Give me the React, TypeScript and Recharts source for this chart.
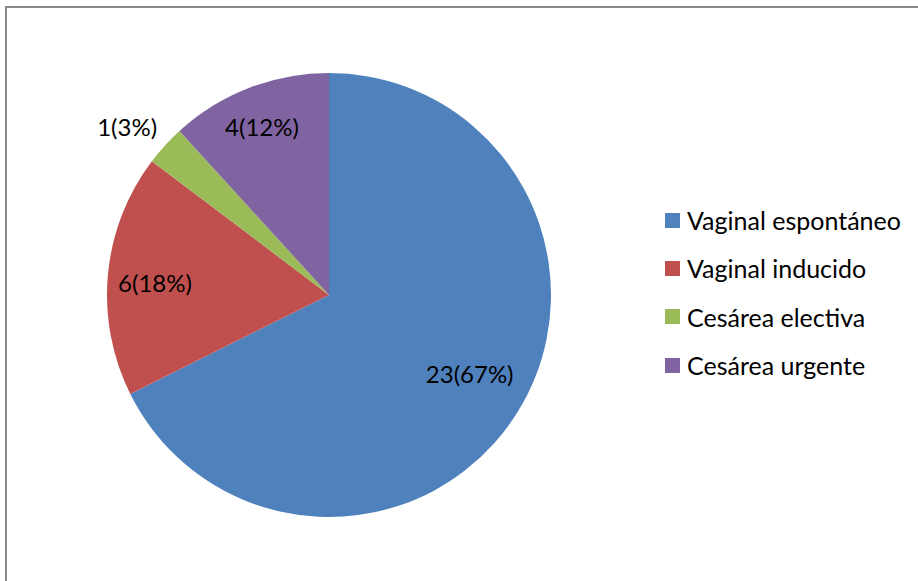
import { PieChart, Pie, Cell, Legend } from "recharts";

const categories = ["Vaginal espontáneo", "Vaginal inducido", "Cesárea electiva", "Cesárea urgente"];
const counts = [23, 6, 1, 4];
const percents = [67, 18, 3, 12];

const colors = ["#4F81BD", "#C0504D", "#9BBB59", "#8064A2"];
// label placement: fraction of radius and angle nudge (deg) from the slice middle
const labelRadius = [0.73, 0.785, 1.18, 0.81];
const labelTurn = [2, 2, 2.75, 0.7];

const FONT = "Lato, 'Open Sans', sans-serif";
const RADIAN = Math.PI / 180;

const data = categories.map((name, i) => ({ name, value: counts[i], pct: percents[i] }));

function renderLabel(props: any) {
  const { cx, cy, midAngle, outerRadius, index } = props;
  const r = outerRadius * labelRadius[index];
  const a = (midAngle + labelTurn[index]) * RADIAN;
  const x = cx + r * Math.cos(-a);
  const y = cy + r * Math.sin(-a) - 2;
  return (
    <text
      x={x}
      y={y}
      textAnchor="middle"
      dominantBaseline="central"
      fill="#000"
      fontSize={24}
      fontFamily={FONT}
    >
      {`${counts[index]}(${percents[index]}%)`}
    </text>
  );
}

// legend keeps the series order (recharts would sort it by name)
function renderLegend() {
  return (
    <div style={{ fontFamily: FONT, fontSize: 25, color: "#000" }}>
      {categories.map((name, i) => (
        <div key={name} style={{ display: "flex", alignItems: "center", height: 48.3 }}>
          <span
            style={{
              display: "inline-block",
              width: 15,
              height: 15,
              background: colors[i],
              marginRight: 7,
            }}
          />
          <span>{name}</span>
        </div>
      ))}
    </div>
  );
}

export default function App() {
  return (
    <div
      style={{
        position: "absolute",
        left: 0,
        top: 0,
        width: 918,
        height: 581,
        overflow: "hidden",
        background: "#fff",
      }}
    >
      <div
        style={{
          position: "absolute",
          left: 5,
          top: 6,
          width: 1000,
          height: 700,
          border: "2px solid #898989",
          boxSizing: "border-box",
        }}
      />
      <div style={{ position: "absolute", left: 0, top: 0 }}>
        <PieChart width={918} height={581} margin={{ top: 0, right: 0, bottom: 0, left: 0 }}>
          <Pie
            data={data}
            dataKey="value"
            nameKey="name"
            cx={329}
            cy={295}
            outerRadius={222}
            startAngle={90}
            endAngle={-270}
            stroke="none"
            label={renderLabel}
            labelLine={false}
            isAnimationActive={false}
          >
            {data.map((d, i) => (
              <Cell key={d.name} fill={colors[i]} />
            ))}
          </Pie>
          <Legend
            layout="vertical"
            content={renderLegend}
            wrapperStyle={{ left: 665, top: 196, width: 250 }}
          />
        </PieChart>
      </div>
    </div>
  );
}
